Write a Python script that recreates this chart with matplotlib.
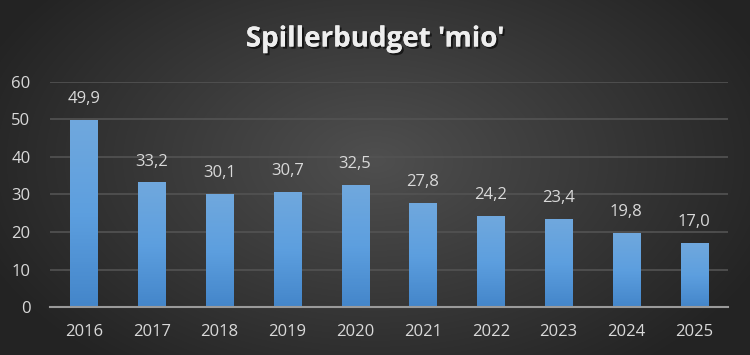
import numpy as np
import matplotlib
matplotlib.use("Agg")
import matplotlib.pyplot as plt
import matplotlib.patheffects as pe
from matplotlib.colors import LinearSegmentedColormap

years = ["2016", "2017", "2018", "2019", "2020", "2021", "2022", "2023", "2024", "2025"]
values = [49.9, 33.2, 30.1, 30.7, 32.5, 27.8, 24.2, 23.4, 19.8, 17.0]
labels = ["49,9", "33,2", "30,1", "30,7", "32,5", "27,8", "24,2", "23,4", "19,8", "17,0"]
yticks = [0, 10, 20, 30, 40, 50, 60]

plt.rcParams['font.family'] = ['Open Sans', 'DejaVu Sans']
txt = '#d9d9d9'

fig = plt.figure(figsize=(7.5, 3.55), dpi=100)

# radial background
bg = fig.add_axes([0, 0, 1, 1], zorder=-10)
yy, xx = np.mgrid[0:355, 0:750]
r = np.sqrt(((xx - 375) / 420.0) ** 2 + ((yy - 160) / 260.0) ** 2)
shade = np.clip(0.31 - 0.17 * r, 0.14, 0.31)
img = np.dstack([shade, shade, shade])
bg.imshow(img, extent=[0, 1, 0, 1], aspect='auto', origin='upper')
bg.axis('off')

ax = fig.add_axes([50 / 750, 1 - 307 / 355, 678 / 750, 225 / 355])
ax.patch.set_alpha(0)
x = np.arange(len(years))
bars = ax.bar(x, values, width=0.4, color='#5b9bd5', zorder=3)
grad = np.linspace(0, 1, 100).reshape(-1, 1)
cmap = LinearSegmentedColormap.from_list('b', ['#4486ca', '#5d9fdf', '#70a8dd'])
for b, lab in zip(bars, labels):
    bx, bw, bh = b.get_x(), b.get_width(), b.get_height()
    im = ax.imshow(grad, extent=[bx, bx + bw, 0, bh], cmap=cmap, aspect='auto',
                   origin='lower', zorder=4)
    im.set_clip_path(b)
    ax.text(bx + bw / 2, bh + 3.4, lab, ha='center', va='bottom', color=txt, fontsize=12)

ax.set_xlim(-0.5, len(years) - 0.5)
ax.set_ylim(0, 60)
ax.set_yticks(yticks)
ax.set_xticks(x)
ax.set_xticklabels(years)
ax.tick_params(colors=txt, labelsize=12, length=0)
ax.tick_params(axis='y', pad=14)
ax.tick_params(axis='x', pad=12)
for t in ax.get_yticklabels() + ax.get_xticklabels():
    t.set_color(txt)
ax.grid(axis='y', color='#535353', linewidth=1.2, zorder=0)
for s in ['top', 'right', 'left']:
    ax.spines[s].set_visible(False)
ax.spines['bottom'].set_color('#9a9a9a')
ax.spines['bottom'].set_linewidth(1.5)
ax.spines['bottom'].set_zorder(5)

fig.text(0.5, 1 - 39 / 355, "Spillerbudget 'mio'", ha='center', va='center',
         color='#eeeeee', fontsize=20, fontweight='bold',
         path_effects=[pe.withSimplePatchShadow(offset=(1.5, -1.5), shadow_rgbFace='black', alpha=0.6), pe.Normal()])

fig.savefig('out.png', dpi=100)
